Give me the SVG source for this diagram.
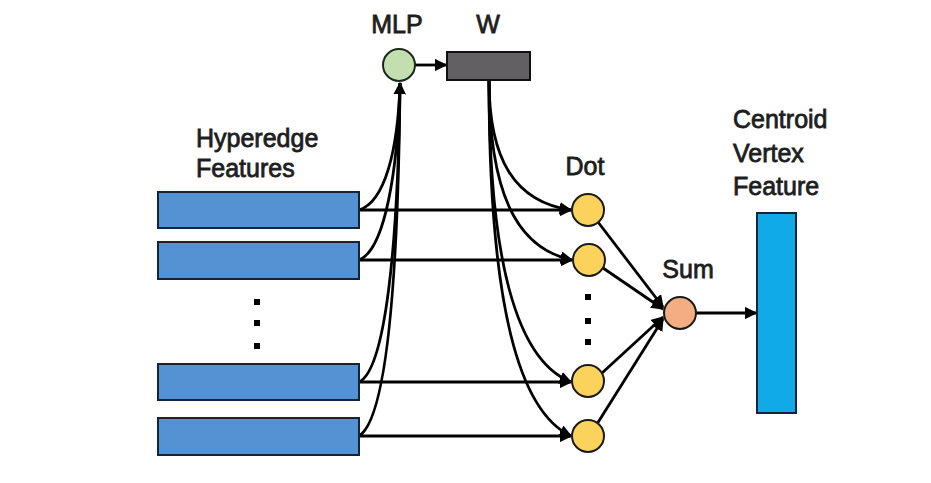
<svg xmlns="http://www.w3.org/2000/svg" width="931" height="483" viewBox="0 0 931 483">
<defs>
<style>
.t{font-family:"Liberation Sans",Arial,sans-serif;font-size:25px;fill:#1e1e1e;stroke:#1e1e1e;stroke-width:0.8}
.bar{fill:#5592d4;stroke:#14233a;stroke-width:2}
.dot{fill:#fbd35c;stroke:#1a1a1a;stroke-width:2}
.c{fill:none;stroke:#000;stroke-width:2.8}
.sq{fill:#000}
</style>
<marker id="ah" viewBox="0 0 10 10" refX="9" refY="5" markerWidth="4.5" markerHeight="4.5" markerUnits="strokeWidth" orient="auto">
<path d="M0,0 L10,5 L0,10 z" fill="#000"/>
</marker>
</defs>
<rect width="931" height="483" fill="#fff"/>

<g id="connectors">
<path class="c" d="M359 210 H571" marker-end="url(#ah)"/>
<path class="c" d="M359 260 H572" marker-end="url(#ah)"/>
<path class="c" d="M359 382 H571" marker-end="url(#ah)"/>
<path class="c" d="M359 436 H571" marker-end="url(#ah)"/>
<path class="c" d="M359 210 C385 202 398 150 400 83" marker-end="url(#ah)"/>
<path class="c" d="M359 260 C385 250 398 170 400 83"/>
<path class="c" d="M359 382 C385 370 398 250 400 83"/>
<path class="c" d="M359 436 C385 420 398 300 400 83"/>
<path class="c" d="M415 65 H446" marker-end="url(#ah)"/>
<path class="c" d="M489 80 C489 160 515 202 571 210" marker-end="url(#ah)"/>
<path class="c" d="M489 80 C489 190 515 248 572 260" marker-end="url(#ah)"/>
<path class="c" d="M489 80 C489 270 520 362 571 382" marker-end="url(#ah)"/>
<path class="c" d="M489 80 C489 310 520 412 571 436" marker-end="url(#ah)"/>
<path class="c" d="M598 222 L663 307" marker-end="url(#ah)"/>
<path class="c" d="M603 268 L663 309" marker-end="url(#ah)"/>
<path class="c" d="M602 373 L663 317" marker-end="url(#ah)"/>
<path class="c" d="M597 424 L663 319" marker-end="url(#ah)"/>
<path class="c" d="M696 313 H756" marker-end="url(#ah)"/>
</g>

<g id="hyperedge-features">
<rect class="bar" x="158" y="192" width="201" height="36"/>
<rect class="bar" x="158" y="242" width="201" height="37"/>
<rect class="bar" x="158" y="364" width="201" height="36"/>
<rect class="bar" x="158" y="418" width="201" height="37"/>
<rect class="sq" x="254" y="299" width="6" height="6"/>
<rect class="sq" x="254" y="320" width="6" height="6"/>
<rect class="sq" x="254" y="343" width="6" height="6"/>
<text class="t" x="196" y="147">Hyperedge</text>
<text class="t" x="196" y="177">Features</text>
</g>

<g id="mlp">
<circle cx="399" cy="65" r="16" fill="#c3dfb0" stroke="#1a2a1a" stroke-width="2"/>
<text class="t" x="397" y="33" text-anchor="middle">MLP</text>
</g>

<g id="w">
<rect x="447" y="52" width="83" height="28" fill="#636063" stroke="#111" stroke-width="2"/>
<text class="t" x="488" y="33" text-anchor="middle">W</text>
</g>

<g id="dot-nodes">
<circle class="dot" cx="588" cy="210" r="16"/>
<circle class="dot" cx="589" cy="260" r="16"/>
<circle class="dot" cx="588" cy="381" r="16"/>
<circle class="dot" cx="588" cy="436" r="16"/>
<rect class="sq" x="585" y="294" width="6" height="6"/>
<rect class="sq" x="585" y="318" width="6" height="6"/>
<rect class="sq" x="585" y="339" width="6" height="6"/>
<text class="t" x="585" y="175" text-anchor="middle">Dot</text>
</g>

<g id="sum">
<circle cx="680" cy="313" r="16" fill="#f2ad82" stroke="#1a1a1a" stroke-width="2"/>
<text class="t" x="688" y="278" text-anchor="middle">Sum</text>
</g>

<g id="centroid">
<rect x="757" y="213" width="39" height="200" fill="#10aae8" stroke="#14233a" stroke-width="2"/>
<text class="t" x="733" y="128">Centroid</text>
<text class="t" x="733" y="162">Vertex</text>
<text class="t" x="733" y="195">Feature</text>
</g>
</svg>
